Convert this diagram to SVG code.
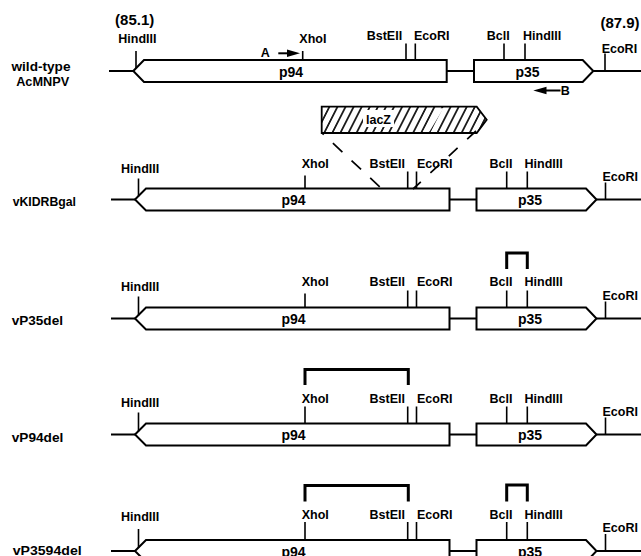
<svg xmlns="http://www.w3.org/2000/svg" width="641" height="556" viewBox="0 0 641 556">
<style>
.t{font-family:"Liberation Sans",Arial,sans-serif;font-weight:bold;font-size:12.5px;fill:#000}
.g{font-family:"Liberation Sans",Arial,sans-serif;font-weight:bold;font-size:14px;fill:#000;text-anchor:middle}
.n{font-family:"Liberation Sans",Arial,sans-serif;font-weight:bold;font-size:13.5px;fill:#000}
.box{fill:#fff;stroke:#000;stroke-width:2;stroke-linejoin:miter}
.ln{fill:none;stroke:#000;stroke-width:2}
.tk{fill:none;stroke:#000;stroke-width:1.6}
.br{fill:none;stroke:#000;stroke-width:3;stroke-linejoin:miter}
.dash{fill:none;stroke:#000;stroke-width:1.7}
</style>
<defs>
<pattern id="hatch" patternUnits="userSpaceOnUse" width="7.2" height="10" patternTransform="rotate(27)">
<line x1="3.6" y1="-1" x2="3.6" y2="11" stroke="#000" stroke-width="1.6"/>
</pattern>
</defs>

<!-- Row 1: wild-type -->
<g id="row-wildtype" transform="translate(0,71)">
<text class="n" x="41" y="-0.5" text-anchor="middle" textLength="59" lengthAdjust="spacingAndGlyphs">wild-type</text>
<text class="n" x="42.7" y="14.5" text-anchor="middle" textLength="53" lengthAdjust="spacingAndGlyphs">AcMNPV</text>
<text class="t" x="134.7" y="-46" text-anchor="middle" style="font-size:15px">(85.1)</text>
<text class="t" x="620" y="-43.5" text-anchor="middle" style="font-size:15px">(87.9)</text>
<path class="ln" d="M109 0H133.3M446.7 0H474M593.3 0H641"/>
<g id="wt-p94"><path class="box" d="M133.3 0L144 -11H446.7V11H144Z"/><text class="g" x="291" y="5.5">p94</text></g>
<g id="wt-p35"><path class="box" d="M474 -11H582.7L593.3 0L582.7 11H474Z"/><text class="g" x="527.5" y="5.5">p35</text></g>
<path class="tk" d="M136 -20V-3M302.7 -20V-11M406 -27.5V-11M415.3 -27.5V-11M504 -27.5V-11M525 -27.5V-11M605 -17.5V0"/>
<text class="t" x="118.3" y="-28">HindIII</text>
<text class="t" x="299.3" y="-28.3">XhoI</text>
<text class="t" x="366.7" y="-31.5">BstEII</text>
<text class="t" x="414" y="-31.5">EcoRI</text>
<text class="t" x="486.7" y="-31.5">BclI</text>
<text class="t" x="523" y="-31.5">HindIII</text>
<text class="t" x="601.7" y="-18.5">EcoRI</text>
<g id="primer-A"><text class="t" x="260.7" y="-14.5">A</text><path class="ln" d="M278.3 -17.7H290"/><polygon points="287,-21.5 300,-17.7 287,-13.9" fill="#000"/></g>
<g id="primer-B"><path class="ln" d="M545 19.5H560.5"/><polygon points="533.3,19.5 546.5,15.7 546.5,23.3" fill="#000"/><text class="t" x="560.7" y="24">B</text></g>
</g>

<!-- lacZ insert -->
<g id="lacZ">
<path d="M321.7 106.7H476.7L486.7 119.8L476.7 133H321.7Z" fill="url(#hatch)" stroke="#000" stroke-width="1.8"/>
<polygon points="437,108.2 443.5,108.2 429.5,131.6 423,131.6" fill="#fff"/>
<rect x="363" y="110" width="31" height="17" fill="#fff"/>
<text class="t" x="378.5" y="124" text-anchor="middle">lacZ</text>
</g>

<!-- Row 2: vKIDRBgal -->
<g id="row-vKIDRBgal" transform="translate(0,199.5)">
<text class="n" x="12.7" y="6" textLength="63.3" lengthAdjust="spacingAndGlyphs">vKIDRBgal</text>
<path class="ln" d="M111 0H135M449.5 0H476.5M596.5 0H641"/>
<g id="kid-p94"><path class="box" d="M135 0L146 -11H449.5V11H146Z"/><text class="g" x="293.5" y="5.5">p94</text></g>
<g id="kid-p35"><path class="box" d="M476.5 -11H586L596.5 0L586 11H476.5Z"/><text class="g" x="530" y="5.5">p35</text></g>
<path class="tk" d="M138.5 -21V-3M305 -24V-11M407.7 -28V-11M416.5 -28V-11M506.7 -28V-11M527.3 -28V-11M605.5 -17V0"/>
<text class="t" x="121" y="-27">HindIII</text>
<text class="t" x="301.7" y="-31.5">XhoI</text>
<text class="t" x="369.5" y="-31.5">BstEII</text>
<text class="t" x="417" y="-31.5">EcoRI</text>
<text class="t" x="489.5" y="-31.5">BclI</text>
<text class="t" x="524.5" y="-31.5">HindIII</text>
<text class="t" x="602.5" y="-19">EcoRI</text>
</g>

<!-- Row 3: vP35del -->
<g id="row-vP35del" transform="translate(0,318.5)">
<text class="n" x="11.7" y="6.5" textLength="51.3" lengthAdjust="spacingAndGlyphs">vP35del</text>
<path class="ln" d="M111 0H135M449.5 0H476.5M596.5 0H641"/>
<g id="p35del-p94"><path class="box" d="M135 0L146 -11H449.5V11H146Z"/><text class="g" x="293.5" y="5.5">p94</text></g>
<g id="p35del-p35"><path class="box" d="M476.5 -11H586L596.5 0L586 11H476.5Z"/><text class="g" x="530" y="5.5">p35</text></g>
<path class="tk" d="M138.5 -22V-3M305 -25V-11M407.7 -28V-11M416.5 -28V-11M506.7 -28V-11M527.3 -28V-11M605.5 -17V0"/>
<path class="br" d="M506.7 -49.5V-65.5H527.3V-49.5"/>
<text class="t" x="121" y="-28">HindIII</text>
<text class="t" x="301.7" y="-32.5">XhoI</text>
<text class="t" x="369.5" y="-32.5">BstEII</text>
<text class="t" x="417" y="-32.5">EcoRI</text>
<text class="t" x="489.5" y="-32.5">BclI</text>
<text class="t" x="524.5" y="-32.5">HindIII</text>
<text class="t" x="602.5" y="-19">EcoRI</text>
</g>

<!-- Row 4: vP94del -->
<g id="row-vP94del" transform="translate(0,434.5)">
<text class="n" x="11.7" y="7" textLength="51.6" lengthAdjust="spacingAndGlyphs">vP94del</text>
<path class="ln" d="M111 0H135M449.5 0H476.5M596.5 0H641"/>
<g id="p94del-p94"><path class="box" d="M135 0L146 -11H449.5V11H146Z"/><text class="g" x="293.5" y="5.5">p94</text></g>
<g id="p94del-p35"><path class="box" d="M476.5 -11H586L596.5 0L586 11H476.5Z"/><text class="g" x="530" y="5.5">p35</text></g>
<path class="tk" d="M138.5 -22V-3M305 -28V-11M407.7 -28V-11M416.5 -28V-11M506.7 -28V-11M527.3 -28V-11M605.5 -17V0"/>
<path class="br" d="M305 -49.5V-65H408.3V-49.5"/>
<text class="t" x="121" y="-28">HindIII</text>
<text class="t" x="301.7" y="-32">XhoI</text>
<text class="t" x="369.5" y="-32">BstEII</text>
<text class="t" x="417" y="-32">EcoRI</text>
<text class="t" x="489.5" y="-32">BclI</text>
<text class="t" x="524.5" y="-32">HindIII</text>
<text class="t" x="602.5" y="-19">EcoRI</text>
</g>

<!-- Row 5: vP3594del -->
<g id="row-vP3594del" transform="translate(0,551)">
<text class="n" x="12.7" y="3.5" textLength="69" lengthAdjust="spacingAndGlyphs">vP3594del</text>
<path class="ln" d="M111 0H135M449.5 0H476.5M596.5 0H641"/>
<g id="p3594del-p94"><path class="box" d="M135 0L146 -11H449.5V11H146Z"/><text class="g" x="293.5" y="5.5">p94</text></g>
<g id="p3594del-p35"><path class="box" d="M476.5 -11H586L596.5 0L586 11H476.5Z"/><text class="g" x="530" y="5.5">p35</text></g>
<path class="tk" d="M138.5 -22V-3M305 -29V-11M407.7 -29V-11M416.5 -29V-11M506.7 -29V-11M527.3 -29V-11M605.5 -17V0"/>
<path class="br" d="M305 -49.5V-65.5H408.3V-49.5M506.7 -49.5V-66H527.3V-49.5"/>
<text class="t" x="121" y="-30">HindIII</text>
<text class="t" x="301.7" y="-32.5">XhoI</text>
<text class="t" x="369.5" y="-32.5">BstEII</text>
<text class="t" x="417" y="-32.5">EcoRI</text>
<text class="t" x="489.5" y="-32.5">BclI</text>
<text class="t" x="524.5" y="-32.5">HindIII</text>
<text class="t" x="602.5" y="-19">EcoRI</text>
</g>

<!-- connectors: lacZ insertion lines -->
<g id="connectors">
<path class="dash" d="M322 133L381 188" stroke-dasharray="13 12.5" stroke-dashoffset="10.6"/>
<path class="dash" d="M476 131L413 189" stroke-dasharray="12 13"/>
</g>
</svg>
